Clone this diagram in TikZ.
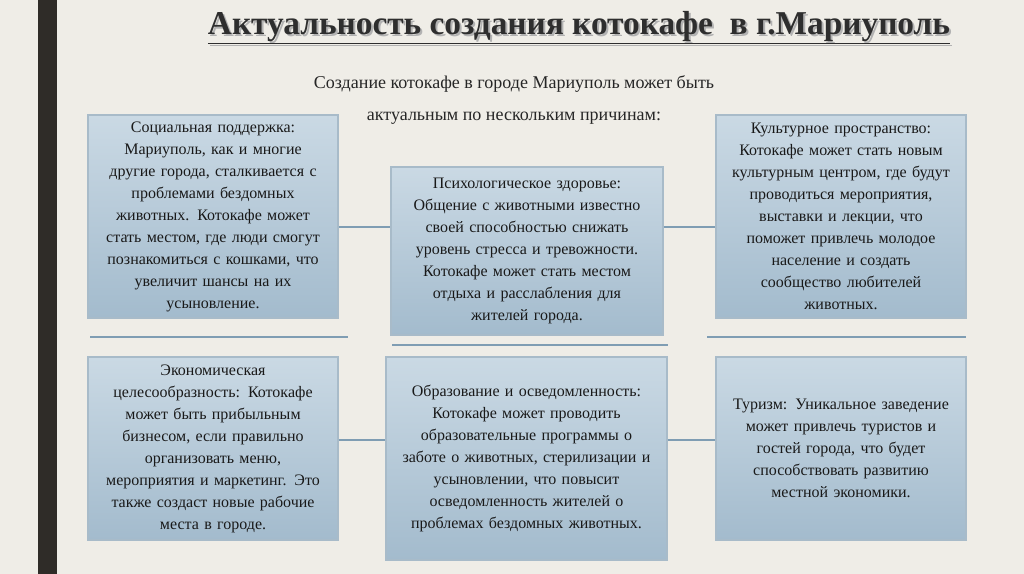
\documentclass[tikz,border=0pt]{standalone}
\usepackage{fontspec}
\setmainfont{Liberation Serif}
\begin{document}
\begin{tikzpicture}[x=0.75pt,y=-0.75pt,
  box/.style={draw=boxline,line width=0.8pt,top color=boxtop,bottom color=boxbot,align=center,font=\fontsize{12}{16.5}\selectfont,text=black!90,inner sep=4pt},
  conn/.style={draw=linec,line width=2.2pt}]
\definecolor{bg}{HTML}{EFEDE7}
\definecolor{boxtop}{HTML}{CAD9E4}
\definecolor{boxbot}{HTML}{A3BBCD}
\definecolor{boxline}{HTML}{A8BBC9}
\definecolor{linec}{HTML}{7F9DB3}
\fill[bg] (0,0) rectangle (1024,574);
\useasboundingbox (0,0) rectangle (1024,574);
\fill[black!88!olive] (38,0) rectangle (57,574);
% title
\node[text=black!30,font=\bfseries\fontsize{25}{28}\selectfont] at (581,30) {\underline{Актуальность создания котокафе\ \ в г.Мариуполь}};
\node[text=black!82,font=\bfseries\fontsize{25}{28}\selectfont] (title) at (579,28) {\underline{Актуальность создания котокафе\ \ в г.Мариуполь}};
\node[font=\fontsize{13.5}{16}\selectfont,text=black!85] (sub1) at (514,84) {Создание котокафе в городе Мариуполь может быть};
\node[font=\fontsize{13.5}{16}\selectfont,text=black!85] (sub2) at (514,118) {актуальным по нескольким причинам:};
% connectors
\coordinate (l1a) at (90,337); \coordinate (l1b) at (348,337);
\coordinate (l2a) at (392,345); \coordinate (l2b) at (668,345);
\coordinate (l3a) at (707,337); \coordinate (l3b) at (966,337);
\draw[conn] (l1a) -- (l1b); \draw[conn] (l2a) -- (l2b); \draw[conn] (l3a) -- (l3b);
\node[box,minimum width=187.5pt,minimum height=152.25pt,text width=178pt] (A) at (213,216.5) {Социальная поддержка:\\Мариуполь, как и многие\\другие города, сталкивается с\\проблемами бездомных\\животных. Котокафе может\\стать местом, где люди смогут\\познакомиться с кошками, что\\увеличит шансы на их\\усыновление.};
\node[box,minimum width=204pt,minimum height=126pt,text width=195pt] (B) at (527,251) {Психологическое здоровье:\\Общение с животными известно\\своей способностью снижать\\уровень стресса и тревожности.\\Котокафе может стать местом\\отдыха и расслабления для\\жителей города.};
\node[box,minimum width=187.5pt,minimum height=152.25pt,text width=178pt] (C) at (841,216.5) {Культурное пространство:\\Котокафе может стать новым\\культурным центром, где будут\\проводиться мероприятия,\\выставки и лекции, что\\поможет привлечь молодое\\население и создать\\сообщество любителей\\животных.};
\node[box,minimum width=187.5pt,minimum height=137.25pt,text width=178pt] (D) at (213,448.5) {Экономическая\\целесообразность: Котокафе\\может быть прибыльным\\бизнесом, если правильно\\организовать меню,\\мероприятия и маркетинг. Это\\также создаст новые рабочие\\места в городе.};
\node[box,minimum width=210.75pt,minimum height=152.25pt,text width=202pt] (E) at (526.5,458.5) {Образование и осведомленность:\\Котокафе может проводить\\образовательные программы о\\заботе о животных, стерилизации и\\усыновлении, что повысит\\осведомленность жителей о\\проблемах бездомных животных.};
\node[box,minimum width=187.5pt,minimum height=137.25pt,text width=178pt] (F) at (841,448.5) {Туризм: Уникальное заведение\\может привлечь туристов и\\гостей города, что будет\\способствовать развитию\\местной экономики.};
\draw[conn] (A.east |- 0,227) -- (B.west |- 0,227);
\draw[conn] (B.east |- 0,227) -- (C.west |- 0,227);
\draw[conn] (D.east |- 0,440) -- (E.west |- 0,440);
\draw[conn] (E.east |- 0,440) -- (F.west |- 0,440);
\end{tikzpicture}
\end{document}
